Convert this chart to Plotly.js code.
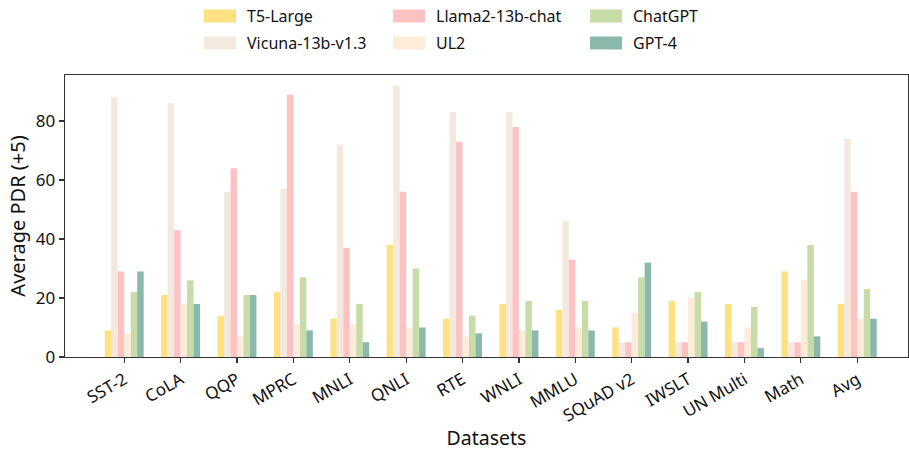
<!DOCTYPE html>
<html>
<head>
<meta charset="utf-8">
<script src="https://cdn.plot.ly/plotly-3.0.1.min.js"></script>
<style>html,body{margin:0;padding:0;background:#fff;}#chart{width:909px;height:451px;}</style>
</head>
<body>
<div id="chart"></div>
<script>
const categories = ["SST-2","CoLA","QQP","MPRC","MNLI","QNLI","RTE","WNLI","MMLU","SQuAD v2","IWSLT","UN Multi","Math","Avg"];
const seriesNames = ["T5-Large","Vicuna-13b-v1.3","Llama2-13b-chat","UL2","ChatGPT","GPT-4"];
const t5Large   = [9, 21, 14, 22, 13, 38, 13, 18, 16, 10, 19, 18, 29, 18];
const vicuna    = [88, 86, 56, 57, 72, 92, 83, 83, 46, 5, 5, 5, 5, 74];
const llama2    = [29, 43, 64, 89, 37, 56, 73, 78, 33, 5, 5, 5, 5, 56];
const ul2       = [8, 18, 7, 11, 11, 10, 7, 9, 10, 15, 20, 10, 26, 13];
const chatgpt   = [22, 26, 21, 27, 18, 30, 14, 19, 19, 27, 22, 17, 38, 23];
const gpt4      = [29, 18, 21, 9, 5, 10, 8, 9, 9, 32, 12, 3, 7, 13];
const seriesValues = [t5Large, vicuna, llama2, ul2, chatgpt, gpt4];
const colors = ["#FEE180", "#F4E9DF", "#FFC2C2", "#FEEBDA", "#C8DCA8", "#8AB8AA"];

const FONT = "Noto Sans, sans-serif";
const M = {l: 65, r: 1, t: 75, b: 94};
const W = 909, H = 451;
const pw = W - M.l - M.r, ph = H - M.t - M.b;
const px2x = p => (p - M.l) / pw;
const py2y = p => (H - M.b - p) / ph;

const traces = seriesNames.map((n, i) => ({
  type: "bar", name: n, x: categories, y: seriesValues[i],
  marker: {color: colors[i], line: {width: 0}}, showlegend: false, hoverinfo: "x+y+name"
}));

// custom legend (3 columns x 2 rows, column-major)
const colX = [204, 393, 590];
const rowY = [16, 43];
const shapes = [], annotations = [];
seriesNames.forEach((n, i) => {
  const c = Math.floor(i / 2), r = i % 2;
  const x0 = colX[c], yc = rowY[r];
  shapes.push({type: "rect", xref: "paper", yref: "paper",
    x0: px2x(x0), x1: px2x(x0 + 32), y0: py2y(yc + 6.5), y1: py2y(yc - 6.5),
    fillcolor: colors[i], line: {width: 0}});
  annotations.push({xref: "paper", yref: "paper", x: px2x(x0 + 41), y: py2y(yc),
    xanchor: "left", yanchor: "middle", showarrow: false, text: n,
    font: {family: FONT, size: 16, color: "#111"}});
});

const layout = {
  width: W, height: H, margin: M,
  paper_bgcolor: "#fff", plot_bgcolor: "#fff",
  barmode: "group", bargap: 0.31, bargroupgap: 0,
  font: {family: FONT, size: 16, color: "#111"},
  xaxis: {
    type: "category", range: [-1.05, 13.9],
    tickangle: -30, ticks: "outside", ticklen: 5, tickwidth: 1.2, tickcolor: "#333",
    showline: true, linecolor: "#333", linewidth: 1.3, mirror: true,
    showgrid: false, zeroline: false,
    tickfont: {family: FONT, size: 17, color: "#111"},
    title: {text: "Datasets", font: {family: FONT, size: 19.5, color: "#111"}, standoff: 6}
  },
  yaxis: {
    range: [0, 95.6], tickvals: [0, 20, 40, 60, 80],
    ticks: "outside", ticklen: 5, tickwidth: 1.2, tickcolor: "#333",
    showline: true, linecolor: "#333", linewidth: 1.3, mirror: true,
    showgrid: false, zeroline: false,
    tickfont: {family: FONT, size: 17, color: "#111"},
    title: {text: "Average PDR (+5)", font: {family: FONT, size: 20, color: "#111"}, standoff: 4}
  },
  shapes: shapes, annotations: annotations
};

Plotly.newPlot("chart", traces, layout, {displayModeBar: false, staticPlot: true});
</script>
</body>
</html>
